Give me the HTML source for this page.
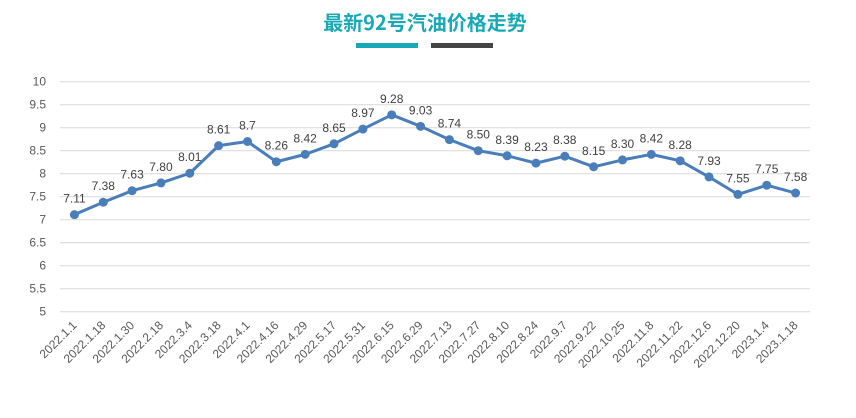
<!DOCTYPE html>
<html><head><meta charset="utf-8"><style>
html,body{margin:0;padding:0;background:#fff;width:856px;height:418px;overflow:hidden}
text{font-family:"Liberation Sans","Noto Sans CJK SC",sans-serif}
</style></head><body>
<svg id="chart" width="856" height="418" viewBox="0 0 856 418" xmlns="http://www.w3.org/2000/svg">
<text x="425" y="30" text-anchor="middle" font-size="20" font-weight="bold" fill="#17a9b5" style='font-family:"Noto Sans CJK SC",sans-serif'>最新92号汽油价格走势</text>
<rect x="356" y="43" width="62" height="5" fill="#17a9b5"/>
<rect x="431" y="43" width="62" height="5" fill="#444"/>
<g id="grid"></g><g id="yticks"></g><g id="xticks"></g><g id="series"></g><g id="vals"></g>
</svg>
<script>
const categories=["2022.1.1","2022.1.18","2022.1.30","2022.2.18","2022.3.4","2022.3.18","2022.4.1","2022.4.16","2022.4.29","2022.5.17","2022.5.31","2022.6.15","2022.6.29","2022.7.13","2022.7.27","2022.8.10","2022.8.24","2022.9.7","2022.9.22","2022.10.25","2022.11.8","2022.11.22","2022.12.6","2022.12.20","2023.1.4","2023.1.18"];
const prices=[7.11,7.38,7.63,7.80,8.01,8.61,8.7,8.26,8.42,8.65,8.97,9.28,9.03,8.74,8.50,8.39,8.23,8.38,8.15,8.30,8.42,8.28,7.93,7.55,7.75,7.58];
const valueLabels=["7.11","7.38","7.63","7.80","8.01","8.61","8.7","8.26","8.42","8.65","8.97","9.28","9.03","8.74","8.50","8.39","8.23","8.38","8.15","8.30","8.42","8.28","7.93","7.55","7.75","7.58"];
const yTicks=[5,5.5,6,6.5,7,7.5,8,8.5,9,9.5,10];
const yTickLabels=["5","5.5","6","6.5","7","7.5","8","8.5","9","9.5","10"];
const NS="http://www.w3.org/2000/svg";
const x0=60,x1=810,yMin=5,yMax=10,yTop=81.7,yBot=311.7;
const step=(x1-x0)/categories.length;
const xs=i=>x0+step*(i+0.5);
const ys=v=>yBot-(v-yMin)/(yMax-yMin)*(yBot-yTop);
function mk(tag,attrs,parent,txt){const e=document.createElementNS(NS,tag);for(const k in attrs)e.setAttribute(k,attrs[k]);if(txt!==undefined)e.textContent=txt;document.getElementById(parent).appendChild(e);return e;}
yTicks.forEach((t,i)=>{
  const g=mk('line',{x1:x0,x2:x1,y1:ys(t),y2:ys(t),stroke:'#d9d9d9','stroke-width':1},'grid');
  
  
  const l=mk('text',{x:46,y:ys(t)+4,'text-anchor':'end','font-size':12,fill:'#595959'},'yticks',yTickLabels[i]);
  
  
});
categories.forEach((c,i)=>{
  const x=xs(i)+3,y=326;
  const l=mk('text',{x:x,y:y,'text-anchor':'end','font-size':12,fill:'#595959',transform:`rotate(-45 ${x} ${y})`},'xticks',c);
  
  
});
const pts=prices.map((v,i)=>xs(i)+','+ys(v)).join(' ');
const line=mk('polyline',{points:pts,fill:'none',stroke:'#4a7ebb','stroke-width':3,'stroke-linejoin':'round'},'series');


prices.forEach((v,i)=>{
  const c=mk('circle',{cx:xs(i),cy:ys(v),r:4.5,fill:'#4a7ebb'},'series');
  
  
  const t=mk('text',{x:xs(i),y:ys(v)-12,'text-anchor':'middle','font-size':12,fill:'#404040'},'vals',valueLabels[i]);
  
  
});
</script>
</body></html>
